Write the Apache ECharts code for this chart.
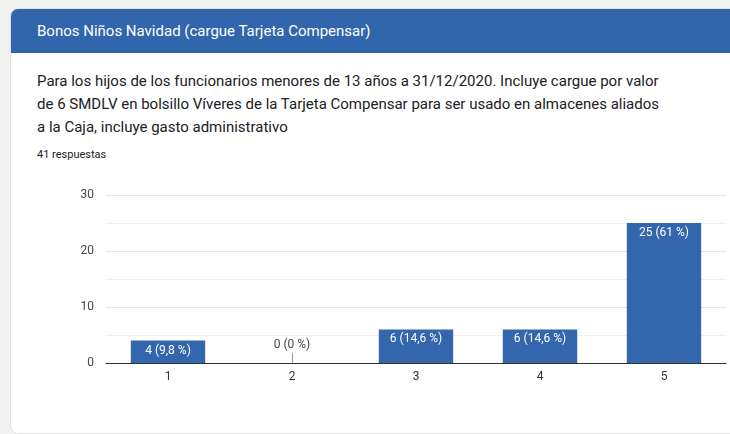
<!DOCTYPE html>
<html>
<head>
<meta charset="utf-8">
<script src="https://cdn.jsdelivr.net/npm/echarts@6/dist/echarts.min.js"></script>
<style>
  body { margin: 0; background: #f1f1f1; font-family: Roboto, 'Open Sans', sans-serif; }
  .card { position: absolute; left: 10px; top: 8px; width: 730px; height: 424px; background: #fff;
    border: 1px solid #e2e2e2; border-radius: 8px; overflow: hidden; }
  .head { height: 44px; background: #3166ad; color: #fff; font-size: 15px; line-height: 44px; padding-left: 26px; }
  .desc { position: absolute; left: 26px; top: 61px; width: 680px; font-size: 15px; line-height: 23px; color: #202124; white-space: nowrap; }
  .count { position: absolute; left: 26px; top: 139px; font-size: 11px; color: #202124; }
  #chart { position: absolute; left: 0; top: 162px; width: 720px; height: 250px; }
</style>
</head>
<body>
<div class="card">
  <div class="head">Bonos Niños Navidad (cargue Tarjeta Compensar)</div>
  <div class="desc">Para los hijos de los funcionarios menores de 13 años a 31/12/2020. Incluye cargue por valor<br>de 6 SMDLV en bolsillo Víveres de la Tarjeta Compensar para ser usado en almacenes aliados<br>a la Caja, incluye gasto administrativo</div>
  <div class="count">41 respuestas</div>
  <div id="chart"></div>
</div>
<script>
const categories = ['1', '2', '3', '4', '5'];
const counts = [4, 0, 6, 6, 25];
const percents = ['9,8', '0', '14,6', '14,6', '61'];

const chart = echarts.init(document.getElementById('chart'));
chart.setOption({
  animation: false,
  grid: { left: 95, right: 5, top: 24, bottom: 58 },
  xAxis: {
    type: 'category',
    data: categories,
    axisLine: { lineStyle: { color: '#333', width: 1 } },
    axisTick: { show: false },
    axisLabel: { color: '#333', fontSize: 12, margin: 8, fontFamily: 'Roboto' }
  },
  yAxis: {
    type: 'value',
    min: 0,
    max: 30,
    interval: 10,
    axisLabel: { color: '#444', fontSize: 12, margin: 12, fontFamily: 'Roboto' },
    splitLine: { lineStyle: { color: '#e6e6e6' } },
    minorTick: { show: false, splitNumber: 2 },
    minorSplitLine: { show: true, lineStyle: { color: '#f0f0f0' } }
  },
  series: [{
    type: 'bar',
    barWidth: '60%',
    data: counts.map((v, i) => ({
      value: v,
      label: v === 0
        ? { position: 'top', color: '#444', distance: 12 }
        : { position: 'insideTop', color: '#fff', distance: 4 }
    })),
    itemStyle: { color: '#3366ad' },
    label: {
      show: true,
      fontSize: 12,
      fontFamily: 'Roboto',
      formatter: p => counts[p.dataIndex] + ' (' + percents[p.dataIndex] + ' %)'
    },
    markLine: {
      silent: true,
      symbol: 'none',
      label: { show: false },
      lineStyle: { color: '#999', type: 'solid', width: 1 },
      data: [[{ coord: ['2', 0] }, { coord: ['2', 1.8] }]]
    }
  }]
});
</script>
</body>
</html>
